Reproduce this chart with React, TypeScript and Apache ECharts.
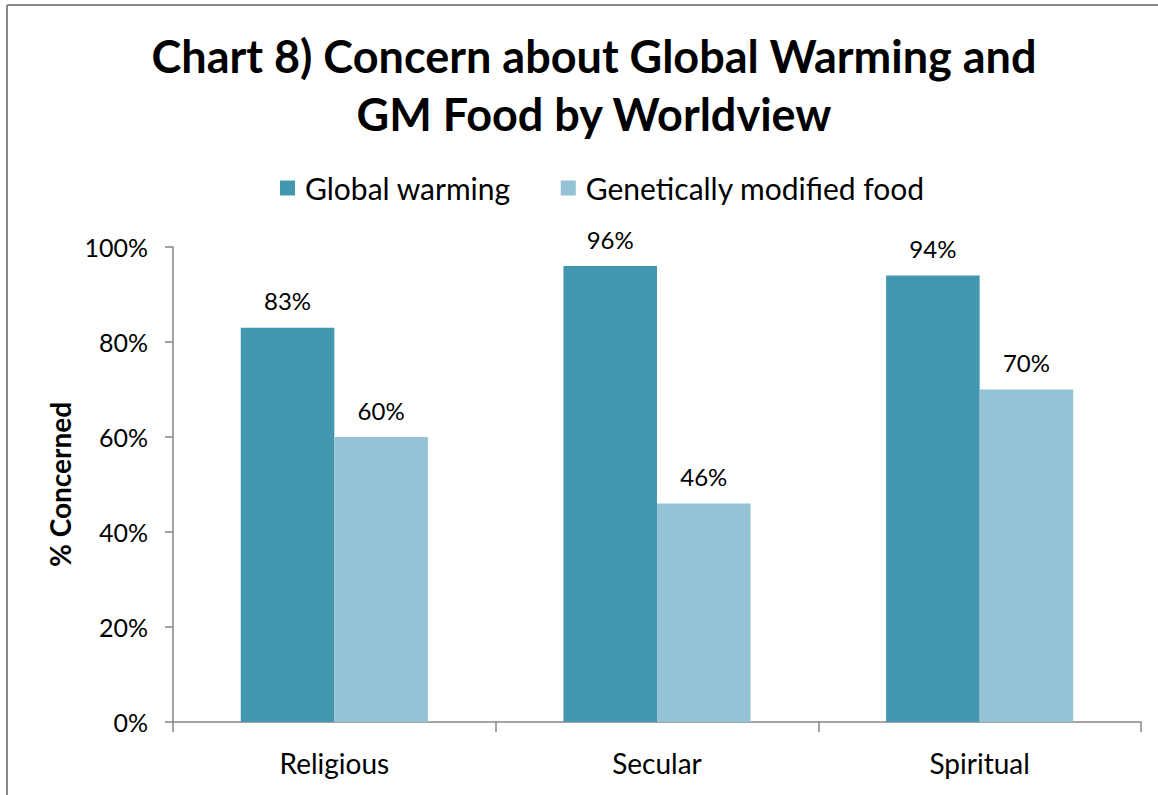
import React, { useEffect, useRef } from "react";
import * as echarts from "echarts";

const categories = ["Religious", "Secular", "Spiritual"];
const globalWarming = [83, 96, 94];
const gmFood = [60, 46, 70];
const seriesNames = ["Global warming", "Genetically modified food"];
const titleText = "Chart 8) Concern about Global Warming and\nGM Food by Worldview";
const yAxisName = "% Concerned";

const FONT = "Lato";

export default function App() {
  const ref = useRef<HTMLDivElement>(null);
  useEffect(() => {
    const chart = echarts.init(ref.current!, null, { renderer: "svg" });
    const label = {
      show: true,
      position: "top" as const,
      distance: 15,
      formatter: (p: any) => `${p.value}%`,
      color: "#000",
      fontFamily: FONT,
      fontSize: 24,
    };
    chart.setOption({
      animation: false,
      backgroundColor: "#fff",
      title: {
        text: titleText,
        left: 589,
        textAlign: "center",
        top: 22,
        textStyle: {
          fontFamily: FONT,
          fontWeight: "bold",
          fontSize: 45,
          lineHeight: 58,
          color: "#000",
        },
      },
      legend: {
        top: 168,
        left: 275,
        itemWidth: 15,
        itemHeight: 15,
        itemGap: 50,
        icon: "rect",
        textStyle: { fontFamily: FONT, fontSize: 30, color: "#000", padding: [0, 0, 0, 5] },
        data: seriesNames,
      },
      graphic: [
        {
          type: "line",
          shape: { x1: 7, y1: 5, x2: 1158, y2: 5 },
          style: { stroke: "#888", lineWidth: 2 },
        },
        {
          type: "line",
          shape: { x1: 7, y1: 5, x2: 7, y2: 795 },
          style: { stroke: "#888", lineWidth: 2 },
        },
      ],
      grid: { left: 173, top: 247, right: 17, bottom: 73 },
      xAxis: {
        type: "category",
        data: categories,
        axisLine: { lineStyle: { color: "#868686", width: 1.5 } },
        axisTick: { show: true, length: 10, lineStyle: { color: "#868686", width: 1.5 } },
        axisLabel: { fontFamily: FONT, fontSize: 28, color: "#000", margin: 27 },
      },
      yAxis: {
        type: "value",
        min: 0,
        max: 100,
        interval: 20,
        name: yAxisName,
        nameLocation: "middle",
        nameGap: 95,
        nameTextStyle: { fontFamily: FONT, fontWeight: "bold", fontSize: 28, color: "#000" },
        axisLine: { show: true, lineStyle: { color: "#868686", width: 1.5 } },
        axisTick: { show: true, length: 8, lineStyle: { color: "#868686", width: 1.5 } },
        splitLine: { show: false },
        axisLabel: {
          fontFamily: FONT,
          fontSize: 25,
          color: "#000",
          margin: 25,
          formatter: (v: number) => `${v}%`,
        },
      },
      series: [
        {
          name: seriesNames[0],
          type: "bar",
          data: globalWarming,
          itemStyle: { color: "#4398B0" },
          barGap: "0%",
          barCategoryGap: "42%",
          label,
        },
        {
          name: seriesNames[1],
          type: "bar",
          data: gmFood,
          itemStyle: { color: "#93C3D5" },
          label,
        },
      ],
    });
    return () => chart.dispose();
  }, []);
  return (
    <div
      ref={ref}
      style={{ position: "fixed", left: 0, top: 0, width: 1158, height: 795 }}
    />
  );
}
